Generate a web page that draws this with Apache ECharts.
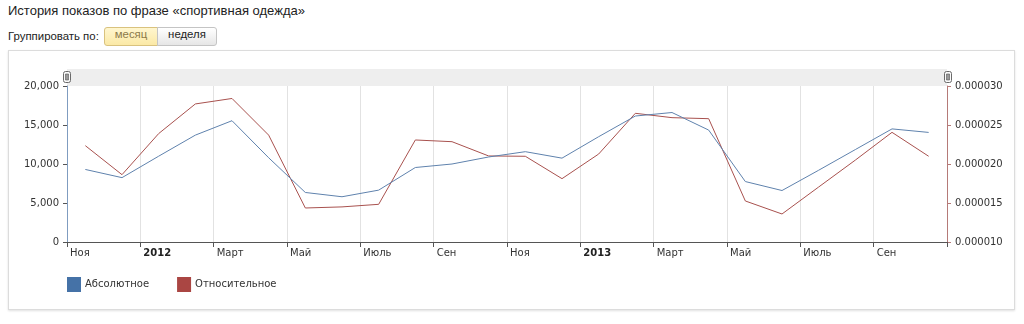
<!DOCTYPE html>
<html>
<head>
<meta charset="utf-8">
<script src="https://cdn.jsdelivr.net/npm/echarts@6/dist/echarts.min.js"></script>
<style>
  html, body { margin: 0; padding: 0; background: #fff; width: 1024px; height: 324px; overflow: hidden; }
  #title { position: absolute; left: 8px; top: 3px; font: 13px "Liberation Sans", Arial, sans-serif; color: #222; }
  #group { position: absolute; left: 8px; top: 30px; font: 11.4px "Liberation Sans", Arial, sans-serif; color: #222; }
  .btn { position: absolute; top: 27px; height: 19px; line-height: 18px; font: 11.4px "Liberation Sans", Arial, sans-serif; text-align: center; box-sizing: border-box; }
  #b1 { left: 104px; width: 54px; background: linear-gradient(#fff6cf, #fbe9a6); border: 1px solid #d9c27e; border-radius: 3px 0 0 3px; color: #8c7a4a; }
  #b2 { left: 157px; width: 60px; background: linear-gradient(#ffffff, #e6e6e6); border: 1px solid #c4c4c4; border-radius: 0 3px 3px 0; color: #222; }
  #box { position: absolute; left: 8px; top: 50px; width: 1005px; height: 258px; border: 1px solid #dcdcdc; box-shadow: 0 1px 2px rgba(0,0,0,0.12); background: #fff; }
  #chart { position: absolute; left: 0; top: 0; width: 1024px; height: 324px; }
</style>
</head>
<body>
<div id="title">История показов по фразе «спортивная одежда»</div>
<div id="group">Группировать по:</div>
<div class="btn" id="b1">месяц</div>
<div class="btn" id="b2">неделя</div>
<div id="box"></div>
<div id="chart"></div>
<script>
// Months: Nov 2011 .. Oct 2013
var months = ['2011-11','2011-12','2012-01','2012-02','2012-03','2012-04','2012-05','2012-06','2012-07','2012-08','2012-09','2012-10',
              '2012-11','2012-12','2013-01','2013-02','2013-03','2013-04','2013-05','2013-06','2013-07','2013-08','2013-09','2013-10'];
// Absolute impressions (left axis)
var absoluteValues = [9300, 8250, 11000, 13700, 15550, 10800, 6350, 5800, 6650, 9550, 10000, 10900,
                      11580, 10750, 13500, 16150, 16600, 14350, 7750, 6600, 9200, 11850, 14500, 14050];
// Relative share (right axis)
var relativeValues = [0.00002235, 0.00001863, 0.0000239, 0.0000277, 0.0000284, 0.0000237, 0.00001436, 0.0000145, 0.00001483, 0.00002308, 0.00002286, 0.00002103,
                      0.00002099, 0.00001812, 0.00002128, 0.0000265, 0.00002594, 0.00002581, 0.00001526, 0.00001359, 0.00001705, 0.0000205, 0.00002406, 0.00002099];
// Tick labels every two months, starting at Nov 2011
var tickLabels = ['Ноя','2012','Март','Май','Июль','Сен','Ноя','2013','Март','Май','Июль','Сен'];
var yearLabels = ['2012','2013'];
var seriesNames = ['Абсолютное','Относительное'];

var absData = absoluteValues.map(function (v, i) { return [i + 0.5, v]; });
var relData = relativeValues.map(function (v, i) { return [i + 0.5, v]; });

var chart = echarts.init(document.getElementById('chart'), null, { renderer: 'canvas' });
var labelFont = 'DejaVu Sans, Verdana, sans-serif';

chart.setOption({
  backgroundColor: 'transparent',
  animation: false,
  grid: { left: 67, right: 77, top: 86, bottom: 82, containLabel: false },
  legend: {
    left: 67, top: 277, padding: 0, itemWidth: 14, itemHeight: 15, itemGap: 28, icon: 'rect',
    data: seriesNames,
    textStyle: { fontFamily: labelFont, fontSize: 10, color: '#333', padding: [0, 0, 0, -1] }
  },
  graphic: [
    { type: 'rect', left: 67, top: 69, shape: { width: 880, height: 17 }, style: { fill: '#eeeeee' }, z: 0 },
    { type: 'group', left: 63, top: 71, children: [
      { type: 'rect', shape: { x: 0.5, y: 0.5, width: 7, height: 11, r: 2 }, style: { fill: '#fafafa', stroke: '#6a6a6a', lineWidth: 1 } },
      { type: 'rect', shape: { x: 2.5, y: 3, width: 3, height: 6 }, style: { fill: '#9a9a9a', stroke: '#555', lineWidth: 0.6 } }
    ] },
    { type: 'group', left: 944, top: 71, children: [
      { type: 'rect', shape: { x: 0.5, y: 0.5, width: 7, height: 11, r: 2 }, style: { fill: '#fafafa', stroke: '#6a6a6a', lineWidth: 1 } },
      { type: 'rect', shape: { x: 2.5, y: 3, width: 3, height: 6 }, style: { fill: '#9a9a9a', stroke: '#555', lineWidth: 0.6 } }
    ] }
  ],
  xAxis: {
    type: 'value', min: 0, max: 24, interval: 2,
    axisLine: { show: true, lineStyle: { color: '#555', width: 1 } },
    axisTick: { show: true, length: 5, lineStyle: { color: '#555' } },
    splitLine: { show: true, lineStyle: { color: '#e2e2e2', width: 1 } },
    axisLabel: {
      show: true, margin: 6, align: 'left', showMinLabel: true, showMaxLabel: true,
      fontFamily: labelFont, fontSize: 10, color: '#333',
      formatter: function (v) {
        var idx = Math.round(v / 2);
        if (idx >= tickLabels.length) return '';
        var t = tickLabels[idx];
        return yearLabels.indexOf(t) >= 0 ? '{b|' + t + '}' : '{n|' + t + '}';
      },
      rich: {
        n: { fontFamily: labelFont, fontSize: 10, color: '#333', padding: [0, 0, 0, 3] },
        b: { fontFamily: labelFont, fontSize: 10, color: '#222', fontWeight: 'bold', padding: [0, 0, 0, 3] }
      }
    }
  },
  yAxis: [
    {
      type: 'value', min: 0, max: 20000, interval: 5000, position: 'left',
      axisLine: { show: true, lineStyle: { color: '#7f9cc0', width: 1 } },
      axisTick: { show: true, length: 4, lineStyle: { color: '#555' } },
      splitLine: { show: false },
      axisLabel: {
        margin: 8, fontFamily: labelFont, fontSize: 10, color: '#333',
        formatter: function (v) { return v.toLocaleString('en-US'); }
      }
    },
    {
      type: 'value', min: 0.00001, max: 0.00003, interval: 0.000005, position: 'right',
      axisLine: { show: true, lineStyle: { color: '#b57a78', width: 1 } },
      axisTick: { show: true, length: 4, lineStyle: { color: '#b57a78' } },
      splitLine: { show: false },
      axisLabel: {
        margin: 8, fontFamily: labelFont, fontSize: 10, color: '#333',
        formatter: function (v) { return v.toFixed(6); }
      }
    }
  ],
  series: [
    {
      name: seriesNames[0], type: 'line', yAxisIndex: 0, data: absData,
      showSymbol: false, symbol: 'none', itemStyle: { color: '#4572A7' },
      lineStyle: { color: '#5f82ad', width: 1 }, z: 3
    },
    {
      name: seriesNames[1], type: 'line', yAxisIndex: 1, data: relData,
      showSymbol: false, symbol: 'none', itemStyle: { color: '#AA4643' },
      lineStyle: { color: '#a8514e', width: 1 }, z: 2
    }
  ]
});
</script>
</body>
</html>
